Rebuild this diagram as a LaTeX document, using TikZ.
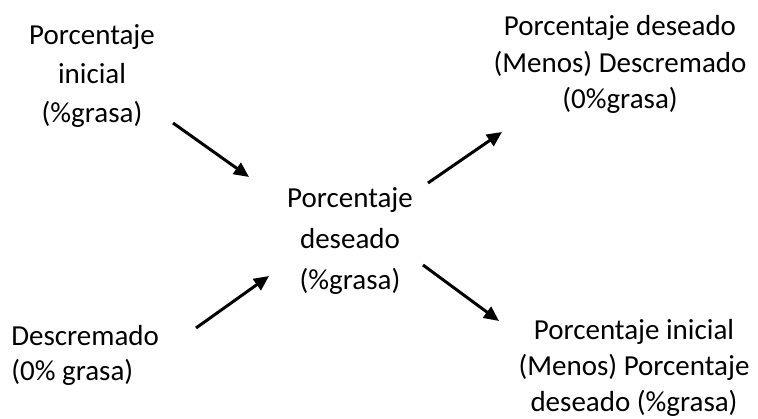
\documentclass[tikz,border=0pt]{standalone}
\usepackage{fontspec}
\setmainfont{Carlito}
\usetikzlibrary{arrows.meta}

\tikzset{
  etiqueta/.style={align=center, inner sep=0pt, font=\fontsize{16.5}{22}\selectfont},
  flecha/.style={line width=1.7pt, -{Triangle[length=0.3cm, width=0.27cm]}}
}

\begin{document}
\begin{tikzpicture}
\useasboundingbox (0,0) rectangle (15.16,-8.38);
\node [etiqueta] (inicial) at (1.84, -1.52) {Porcentaje\\inicial\\(\%grasa)};
\node [etiqueta, font=\fontsize{16.5}{21}\selectfont] (deseadoMenos) at (12.4, -1.29) {Porcentaje deseado\\(Menos) Descremado\\(0\%grasa)};
\node [etiqueta, font=\fontsize{16.5}{23.5}\selectfont] (deseado) at (7.0, -4.82) {Porcentaje\\deseado\\(\%grasa)};
\node [etiqueta, align=left, anchor=west, font=\fontsize{16.5}{20}\selectfont] (descremado) at (0.22, -7.1) {Descremado\\(0\% grasa)};
\node [etiqueta, font=\fontsize{16.5}{20.5}\selectfont] (inicialMenos) at (12.68, -7.36) {Porcentaje inicial\\(Menos) Porcentaje\\deseado (\%grasa)};

\coordinate (a1) at (3.46, -2.46);
\coordinate (b1) at (4.98, -3.54);
\coordinate (a2) at (3.92, -6.56);
\coordinate (b2) at (5.38, -5.52);
\coordinate (a3) at (8.56, -3.66);
\coordinate (b3) at (10.04, -2.64);
\coordinate (a4) at (8.46, -5.30);
\coordinate (b4) at (9.98, -6.42);

\draw [flecha] (a1) -- (b1);
\draw [flecha] (a2) -- (b2);
\draw [flecha] (a3) -- (b3);
\draw [flecha] (a4) -- (b4);
\end{tikzpicture}
\end{document}
